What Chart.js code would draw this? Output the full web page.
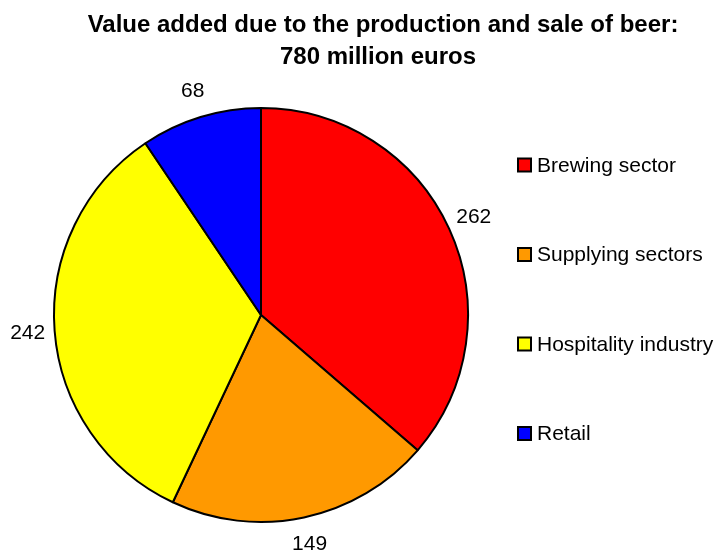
<!DOCTYPE html>
<html>
<head>
<meta charset="utf-8">
<script src="https://cdn.jsdelivr.net/npm/chart.js@4"></script>
<style>
  html, body { margin: 0; padding: 0; background: #fff; }
  #wrap { width: 718px; height: 550px; }
</style>
</head>
<body>
<div id="wrap"><canvas id="beerChart" width="718" height="550"></canvas></div>
<script>
// Data
const categories = ['Brewing sector', 'Supplying sectors', 'Hospitality industry', 'Retail'];
const values = [262, 149, 242, 68];
const sliceColors = ['#ff0000', '#ff9900', '#ffff00', '#0000ff'];
const titleLines = ['Value added due to the production and sale of beer:', '780 million euros'];

const FONT = "'Liberation Sans', Arial, sans-serif";

// Title, centred a bit right of the canvas middle like the original
const titleBlock = {
    id: 'titleBlock',
    afterDraw(chart) {
        const ctx = chart.ctx;
        const centres = [383, 378];
        ctx.save();
        ctx.font = 'bold 24px ' + FONT;
        ctx.fillStyle = '#000';
        ctx.textAlign = 'center';
        ctx.textBaseline = 'alphabetic';
        titleLines.forEach((t, i) => ctx.fillText(t, centres[i], 32 + i * 32));
        ctx.restore();
    }
};

// Value labels outside each slice
const outsideLabels = {
    id: 'outsideLabels',
    afterDatasetsDraw(chart) {
        const ctx = chart.ctx;
        const meta = chart.getDatasetMeta(0);
        ctx.save();
        ctx.font = '21px ' + FONT;
        ctx.fillStyle = '#000';
        ctx.textAlign = 'center';
        ctx.textBaseline = 'middle';
        meta.data.forEach((arc, i) => {
            const p = arc.getProps(['x', 'y', 'startAngle', 'endAngle', 'outerRadius'], true);
            const mid = (p.startAngle + p.endAngle) / 2;
            const r = p.outerRadius + 27;
            ctx.fillText(String(chart.data.datasets[0].data[i]), p.x + Math.cos(mid) * r, p.y + Math.sin(mid) * r);
        });
        ctx.restore();
    }
};

// Legend on the right, spaced like the original
const sideLegend = {
    id: 'sideLegend',
    afterDraw(chart) {
        const ctx = chart.ctx;
        const ds = chart.data.datasets[0];
        const x0 = 518, y0 = 165, step = 89.5, box = 13;
        ctx.save();
        ctx.font = '21px ' + FONT;
        ctx.textBaseline = 'middle';
        chart.data.labels.forEach((lab, i) => {
            const y = y0 + i * step;
            ctx.fillStyle = ds.backgroundColor[i];
            ctx.fillRect(x0, y - box / 2, box, box);
            ctx.lineWidth = 2;
            ctx.strokeStyle = '#000';
            ctx.strokeRect(x0, y - box / 2, box, box);
            ctx.fillStyle = '#000';
            ctx.fillText(lab, x0 + 19, y + 1);
        });
        ctx.restore();
    }
};

const chart = new Chart(document.getElementById('beerChart'), {
    type: 'pie',
    data: {
        labels: categories,
        datasets: [{
            data: values,
            backgroundColor: sliceColors,
            borderColor: '#000',
            borderWidth: 2
        }]
    },
    options: {
        responsive: false,
        animation: false,
        radius: 207,
        layout: { padding: { left: 48, right: 244, top: 84, bottom: 4 } },
        plugins: {
            legend: { display: false },
            tooltip: { enabled: false },
            title: { display: false }
        }
    },
    plugins: [titleBlock, outsideLabels, sideLegend]
});
</script>
</body>
</html>
